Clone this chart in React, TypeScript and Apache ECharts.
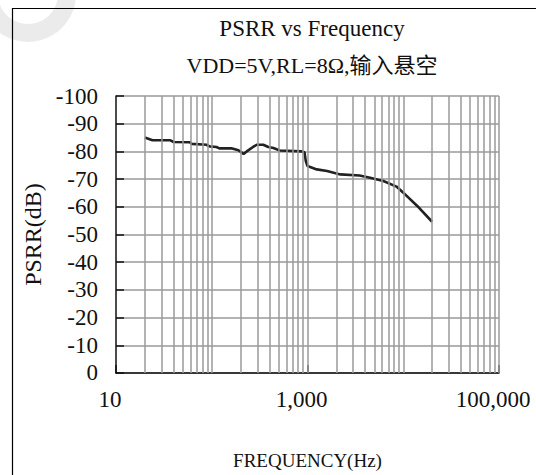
import React, { useEffect, useRef } from "react";
import * as echarts from "echarts";

// Measured curve: PSRR (dB) vs frequency (Hz)
const freqHz = [20, 24, 37, 40, 59, 62, 88, 95, 112, 120, 160, 190, 215, 232, 270, 295, 345, 390, 440, 515, 870, 930, 960, 1000, 1250, 1600, 2200, 3500, 4500, 6200, 8500, 10000, 14000, 20000];
const psrrDb = [-85, -84, -84, -83.4, -83.3, -82.7, -82.4, -81.8, -81.6, -81.1, -81.1, -80.4, -79.1, -80, -81.6, -82.4, -82.4, -81.6, -81.2, -80.3, -80, -79.7, -76.5, -74.7, -73.5, -72.9, -71.7, -71.3, -70.5, -69.3, -67.3, -65.1, -60.3, -54.6];

// Log-grid frequencies (1..9 x each decade)
const gridFreqs = [
  20, 30, 40, 50, 60, 70, 80, 90,
  100, 200, 300, 400, 500, 600, 700, 800, 900,
  1000, 2000, 3000, 4000, 5000, 6000, 7000, 8000, 9000,
  10000, 20000, 30000, 40000, 50000, 60000, 70000, 80000, 90000,
  100000,
];

const titleText = "PSRR vs Frequency";
const subtitleText = "VDD=5V,RL=8Ω,输入悬空";
const xAxisName = "FREQUENCY(Hz)";
const yAxisName = "PSRR(dB)";
const xMin = 10;
const xMax = 100000;
const yMin = -100;
const yMax = 0;
const yStep = 10;

const FONT = "'Liberation Serif', 'Noto Sans CJK SC', serif";

export default function App() {
  const ref = useRef<HTMLDivElement>(null);
  useEffect(() => {
    if (!ref.current) return;
    const chart = echarts.init(ref.current, undefined, { renderer: "svg" });
    chart.setOption({
      animation: false,
      backgroundColor: "#ffffff",
      title: [
        {
          text: titleText,
          left: 307,
          top: 12,
          textAlign: "center",
          textStyle: { fontFamily: FONT, fontSize: 23, fontWeight: "normal", color: "#111" },
        },
        {
          text: subtitleText,
          left: 307,
          top: 49,
          textAlign: "center",
          textStyle: { fontFamily: FONT, fontSize: 22, fontWeight: "normal", color: "#111" },
        },
      ],
      graphic: [
        {
          type: "ring",
          shape: { cx: 28, cy: -6, r: 48, r0: 30 },
          style: { fill: "#ebebeb" },
          z: 0,
          silent: true,
        },
        {
          type: "polyline",
          shape: { points: [[12.5, 475], [12.5, 8.5], [536, 8.5]] },
          style: { stroke: "#000", lineWidth: 1.2, fill: "none" },
          z: 1,
          silent: true,
        },
      ],
      grid: { left: 116, top: 96, right: 37, bottom: 100, containLabel: false },
      xAxis: {
        type: "log",
        logBase: 10,
        min: xMin,
        max: xMax,
        interval: 2,
        name: xAxisName,
        nameLocation: "middle",
        nameGap: 78,
        nameTextStyle: { fontFamily: FONT, fontSize: 19, color: "#111" },
        axisLine: { show: true, lineStyle: { color: "#111", width: 1.5 } },
        axisTick: { show: true, inside: true, length: 8, lineStyle: { color: "#111", width: 1.5 } },
        axisLabel: {
          margin: 15,
          fontFamily: FONT,
          fontSize: 23,
          color: "#111",
          padding: [0, 12, 0, 0],
          formatter: (v: number) => Math.round(v).toLocaleString("en-US"),
        },
        splitLine: { show: false },
        minorTick: { show: false },
        minorSplitLine: { show: false },
      },
      yAxis: {
        type: "value",
        min: yMin,
        max: yMax,
        interval: yStep,
        inverse: true,
        name: yAxisName,
        nameLocation: "middle",
        nameRotate: 90,
        nameGap: 67,
        nameTextStyle: { fontFamily: FONT, fontSize: 24, color: "#111" },
        axisLine: { show: true, lineStyle: { color: "#111", width: 1.5 } },
        axisTick: { show: true, inside: true, length: 8, lineStyle: { color: "#111", width: 1.5 } },
        axisLabel: { margin: 18, fontFamily: FONT, fontSize: 23, color: "#111" },
        splitLine: { show: true, lineStyle: { color: "#9a9a9a", width: 1.5 } },
      },
      series: [
        {
          type: "line",
          data: [],
          z: 1,
          silent: true,
          markLine: {
            silent: true,
            symbol: ["none", "none"],
            label: { show: false },
            lineStyle: { color: "#9a9a9a", width: 1.5, type: "solid" },
            emphasis: { disabled: true },
            data: gridFreqs.map((f) => ({ xAxis: f })),
          },
        },
        {
          type: "line",
          z: 3,
          data: freqHz.map((f, i) => [f, psrrDb[i]]),
          showSymbol: false,
          symbol: "none",
          lineStyle: { color: "#222", width: 2.6 },
          silent: true,
        },
      ],
    });
    return () => chart.dispose();
  }, []);
  return (
    <div
      ref={ref}
      style={{ position: "fixed", left: 0, top: 0, width: 536, height: 475 }}
    />
  );
}
